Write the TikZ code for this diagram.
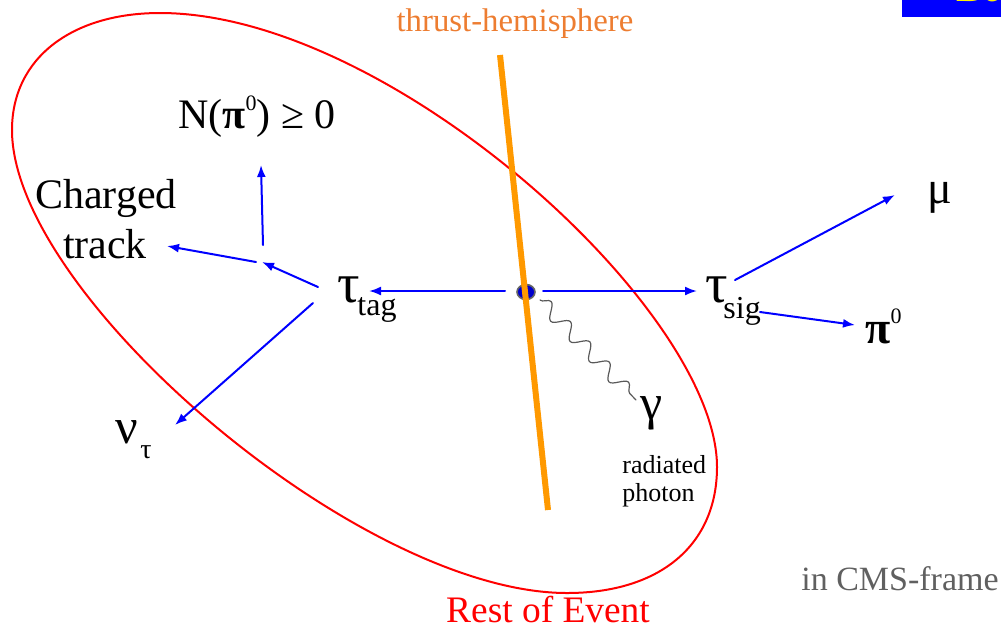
\documentclass[tikz,border=0pt]{standalone}
\usepackage{fontspec}
\setmainfont{Liberation Serif}
\usetikzlibrary{arrows.meta,decorations.pathmorphing}
\definecolor{thrust}{HTML}{FF9900}
\definecolor{thrusttxt}{HTML}{ED7D31}
\newcommand{\zsup}[1]{\raisebox{0.42em}{\mdseries\fontsize{11}{12}\selectfont #1}}
\begin{document}
\begin{tikzpicture}[x=0.5pt,y=-0.5pt,line cap=round,line join=round,
	arr/.style={blue,line width=1pt,-{Latex[length=6pt,width=4.5pt]}},
	lbl/.style={inner sep=0pt,anchor=base west},
	big/.style={lbl,font=\fontsize{21}{24}\selectfont},
	greek/.style={lbl,font=\fontsize{28}{30}\selectfont},
	sub/.style={lbl,font=\fontsize{16}{18}\selectfont}]
	\useasboundingbox (0,0) rectangle (1001,629);
	% corner of the slide title bar
	\fill[blue] (902,0) rectangle (1001,17);
	\begin{scope}
		\clip (902,0) rectangle (1001,17);
		\node[lbl,yellow,font=\bfseries\itshape\fontsize{20}{22}\selectfont] (bar) at (957,1) {Bo};
	\end{scope}
	% rest of event
	\draw[red,line width=1pt] (160,13) .. controls (390,13) and (717,310) .. (717,467)
		.. controls (717,545) and (660,593) .. (567,593)
		.. controls (360,593) and (12,295) .. (12,130)
		.. controls (12,58) and (72,13) .. cycle;
	\node[red,inner sep=0pt,anchor=base,font=\fontsize{18.7}{20}\selectfont] (roe) at (548,622) {Rest of Event};
	% labels
	\node[thrusttxt,inner sep=0pt,anchor=base,font=\fontsize{16.4}{19}\selectfont] (thr) at (515,31) {thrust-hemisphere};
	\node[gray!75!black,inner sep=0pt,anchor=base,font=\fontsize{17}{19}\selectfont] (cms) at (900,590) {in CMS-frame};
	\node[big] (npi) at (178,128) {N({\bfseries π}\zsup{0}) ≥ 0};
	\node[big,anchor=base] (chg) at (106,208) {Charged};
	\node[big,anchor=base] (trk) at (105,258) {track};
	\node[greek] (tautag) at (337,302) {τ};
	\node[sub] (tag) at (357,315) {tag};
	\node[greek] (tausig) at (705,302) {τ};
	\node[sub] (sig) at (723,318) {sig};
	\node[lbl,font=\fontsize{23}{25}\selectfont] (mu) at (927,203) {μ};
	\node[lbl,font=\bfseries\fontsize{23}{25}\selectfont] (pizero) at (865,343) {π\zsup{0}};
	\node[lbl,font=\fontsize{25}{27}\selectfont] (nu) at (115,443) {ν};
	\node[lbl,font=\fontsize{14}{16}\selectfont] (nusub) at (140,458) {τ};
	\node[lbl,font=\fontsize{25}{27}\selectfont] (gam) at (640,419) {γ};
	\node[lbl,font=\fontsize{13}{15}\selectfont,align=left] (rad) at (622,501) {radiated\\[-1pt]photon};
	% end points of the tracks
	\coordinate (vtx) at (526,292);
	\coordinate (vl) at (505,291); \coordinate (vr) at (543,291);
	\coordinate (tl) at (369,291); \coordinate (tr) at (697,291);
	\coordinate (tagout) at (318,287); \coordinate (tagnu) at (313,303);
	\coordinate (br) at (262,262); \coordinate (brl) at (256,262); \coordinate (bru) at (263,245);
	\coordinate (trkend) at (167,246); \coordinate (npiend) at (261,165);
	\coordinate (nuend) at (175,425);
	\coordinate (sigmu) at (735,280); \coordinate (mutip) at (895,195);
	\coordinate (sigpi) at (760,312); \coordinate (pitip) at (855,325);
	\coordinate (phs) at (540,300); \coordinate (phe) at (636,400);
	% tracks
	\draw[arr] (vl) -- (tl);
	\draw[arr] (vr) -- (tr);
	\draw[arr] (tagout) -- (br);
	\draw[arr] (brl) -- (trkend);
	\draw[arr] (bru) -- (npiend);
	\draw[arr] (tagnu) -- (nuend);
	\draw[arr] (sigmu) -- (mutip);
	\draw[arr] (sigpi) -- (pitip);
	\draw[gray!70!black,line width=0.6pt,decorate,decoration={snake,amplitude=3.5pt,segment length=14pt}] (phs) -- (phe);
	\filldraw[fill=blue!80!black,draw=black!60,line width=0.8pt] (vtx) ellipse (9 and 7.5);
	\draw[thrust,line width=3pt,line cap=butt] (500,55) -- (548,510);
\end{tikzpicture}
\end{document}
